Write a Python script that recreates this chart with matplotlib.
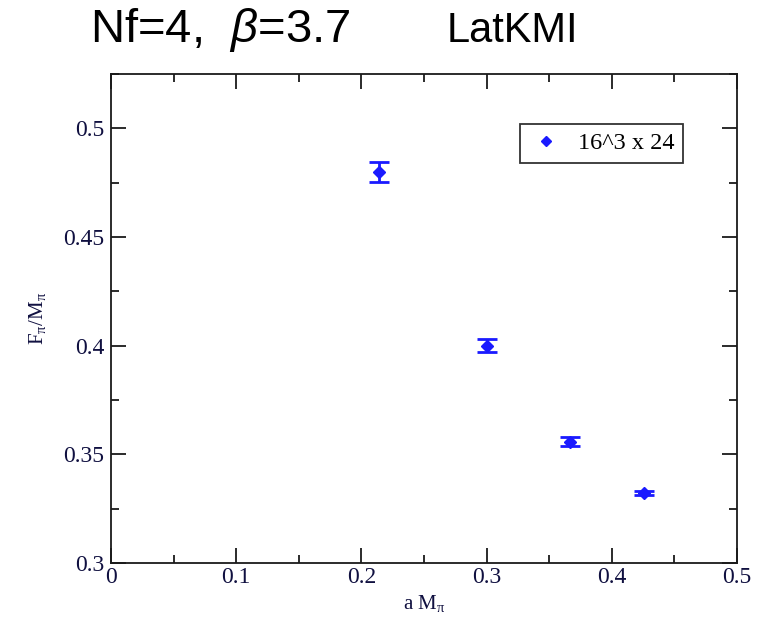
import matplotlib
matplotlib.use("Agg")
import matplotlib.pyplot as plt
from matplotlib.ticker import MultipleLocator
from matplotlib.lines import Line2D

x_vals = [0.214, 0.300, 0.367, 0.4255]
y_vals = [0.480, 0.400, 0.3558, 0.3323]
y_err = [0.0045, 0.0030, 0.0020, 0.0008]
series_label = "16^3 x 24"
x_ticks = [0, 0.1, 0.2, 0.3, 0.4, 0.5]
y_ticks = [0.3, 0.35, 0.4, 0.45, 0.5]

serif = "Liberation Serif"
plt.rcParams["mathtext.fontset"] = "custom"
plt.rcParams["mathtext.rm"] = serif
plt.rcParams["mathtext.it"] = "Liberation Sans:italic"
plt.rcParams["mathtext.bf"] = serif + ":bold"

fig = plt.figure(figsize=(7.69, 6.34), dpi=100)
ax = fig.add_axes([0.1443, 0.112, 0.8141, 0.7713])

blue = "#1a1aff"
ax.errorbar(x_vals, y_vals, yerr=y_err, fmt="D", color=blue, ms=6,
            elinewidth=2, capsize=7, capthick=2, zorder=3)

ax.set_xlim(0, 0.5)
ax.set_ylim(0.3, 0.525)
ax.set_xticks(x_ticks)
ax.set_yticks(y_ticks)
ax.xaxis.set_minor_locator(MultipleLocator(0.05))
ax.yaxis.set_minor_locator(MultipleLocator(0.025))
ax.tick_params(which="both", direction="in", top=True, right=True, width=1.3, colors="#1a1a1a")
ax.tick_params(which="major", length=11)
ax.tick_params(which="minor", length=6)
for s in ax.spines.values():
    s.set_linewidth(1.3)
    s.set_color("#1a1a1a")

lab_color = "#101040"
ax.set_xticklabels(["0", "0.1", "0.2", "0.3", "0.4", "0.5"], family=serif, fontsize=17, color=lab_color)
ax.set_yticklabels(["0.3", "0.35", "0.4", "0.45", "0.5"], family=serif, fontsize=17, color=lab_color)
ax.tick_params(axis="x", pad=3)
ax.tick_params(axis="y", pad=5)

ax.set_xlabel(r"a M$_\mathrm{\pi}$", family=serif, fontsize=15, color=lab_color, labelpad=4)
ax.set_ylabel(r"F$_\mathrm{\pi}$/M$_\mathrm{\pi}$", family=serif, fontsize=15, color=lab_color, labelpad=10)

handle = Line2D([], [], marker="D", color=blue, ms=5, ls="none")
leg = ax.legend([handle], [series_label], loc="upper right", bbox_to_anchor=(0.913, 0.898),
                frameon=True, fancybox=False, edgecolor="black",
                prop={"family": serif, "size": 17.5}, handletextpad=0.6,
                borderpad=0.35, handlelength=1.4, borderaxespad=0)
leg.get_frame().set_linewidth(1.3)

fig.text(0.117, 0.953, r"Nf=4,  $\beta$=3.7", family="Liberation Sans", fontsize=34, va="center", ha="left")
fig.text(0.581, 0.951, "LatKMI", family="Liberation Sans", fontsize=30, va="center", ha="left")

fig.savefig("out.png", dpi=100)
